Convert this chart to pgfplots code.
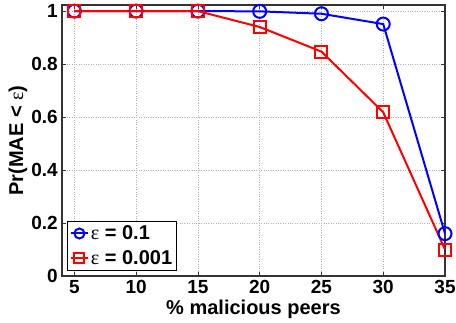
\documentclass[border=0pt]{standalone}
\usepackage{pgfplots}
\pgfplotsset{compat=1.18}
\usepackage{fontspec}
\setmainfont{Liberation Sans}
\newfontfamily\serifgr{Liberation Serif}
\newcommand{\eps}{{\serifgr\mdseries ε}}
\begin{document}
\begin{tikzpicture}
\begin{axis}[
  scale only axis,
  width=383pt, height=271pt,
  xmin=4, xmax=35, ymin=0, ymax=1.023,
  xtick={5,10,15,20,25,30,35},
  ytick={0,0.2,0.4,0.6,0.8,1},
  yticklabels={0,0.2,0.4,0.6,0.8,1},
  xticklabels={5,10,15,20,25,30,35},
  tick label style={font=\fontsize{19}{19}\selectfont\bfseries, inner sep=0pt},
  label style={font=\fontsize{20}{20}\selectfont\bfseries},
  xlabel={\% malicious peers},
  ylabel={Pr(MAE < \eps)},
  xticklabel style={anchor=center, yshift=-11pt},
  yticklabel style={anchor=east, xshift=-4pt},
  xlabel style={at={(axis description cs:0.5,0)}, anchor=center, yshift=-33pt},
  ylabel style={at={(axis description cs:0,0.5)}, anchor=center, yshift=44pt},
  grid=major,
  grid style={dotted, gray!60, line width=0.6pt},
  axis line style={line width=1.2pt, black!80},
  tick style={black!80, line width=0.8pt},
  tick align=inside,
  major tick length=4pt,
  legend cell align=left,
  legend image post style={mark size=5pt},
  legend style={font=\fontsize{20}{20}\selectfont\bfseries, draw=black, line width=0.8pt, inner sep=2.5pt, row sep=5pt, at={(0.013,0.02)}, anchor=south west,
    /tikz/every even column/.append style={column sep=1pt}},
]
\addplot[blue, line width=2pt, mark=o, mark size=6.5pt, mark options={line width=2pt}]
  coordinates {(5,1) (10,1) (15,1) (20,0.999) (25,0.99) (30,0.951) (35,0.16)};
\addlegendentry{\eps\ = 0.1}
\addplot[red, line width=2pt, mark=square, mark size=6pt, mark options={line width=2pt}]
  coordinates {(5,1) (10,1) (15,1) (20,0.94) (25,0.847) (30,0.618) (35,0.10)};
\addlegendentry{\eps\ = 0.001}
\end{axis}
\pgfresetboundingbox
\path ([shift={(-62pt,-46pt)}]current axis.south west) rectangle ([shift={(11pt,5pt)}]current axis.north east);
\end{tikzpicture}
\end{document}
